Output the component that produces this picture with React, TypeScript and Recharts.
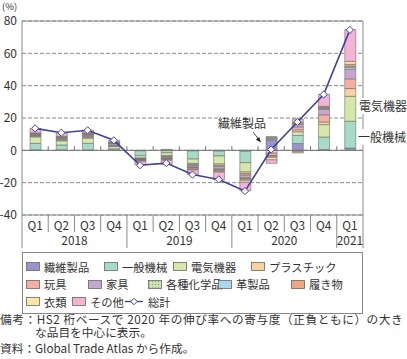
import React from "react";
import {
  ComposedChart,
  Bar,
  Line,
  XAxis,
  YAxis,
  CartesianGrid,
  ReferenceLine,
  ReferenceArea,
} from "recharts";

// quarters 2018Q1 .. 2021Q1
const quarters = ["Q1", "Q2", "Q3", "Q4", "Q1", "Q2", "Q3", "Q4", "Q1", "Q2", "Q3", "Q4", "Q1"];
const years = ["2018", "2018", "2018", "2018", "2019", "2019", "2019", "2019", "2020", "2020", "2020", "2020", "2021"];

// contribution to growth (%pt)
const textiles = [0.3, 0.3, 0.3, 0.2, -0.3, 0.6, -0.4, -0.5, -0.6, 6.5, 4.2, 0.5, 1.4];
const machinery = [4.0, 3.0, 4.0, 0.8, -3.0, -1.5, -5.0, -3.0, -7.0, 0.6, 5.0, 7.7, 16.6];
const electrical = [4.0, 2.6, 3.2, 1.4, -1.5, -1.8, -2.7, -5.0, -5.8, 0.5, 2.3, 7.7, 15.4];
const plastics = [0.5, 0.5, 0.6, 0.4, -0.3, -0.4, -0.6, -0.8, -1.0, -1.8, 1.2, 1.6, 4.8];
const toys = [0.3, 0.4, 0.5, 0.3, -0.2, -0.5, -0.6, -0.8, -1.0, -1.5, 1.8, 4.5, 6.0];
const furniture = [0.5, 0.6, 0.7, 1.0, -0.4, -0.5, -1.0, -1.4, -1.5, 0.4, 1.6, 3.4, 6.0];
const chemicals = [0.4, 0.4, 0.4, 0.3, -0.3, -0.4, -0.5, -0.5, -0.5, 0.5, 0.5, 0.5, 1.0];
const leather = [0.2, 0.2, 0.2, 0.2, -0.1, -0.2, -0.2, -0.3, -0.4, -0.3, -0.6, 0.4, 0.8];
const footwear = [0.3, 0.4, 0.6, 0.4, -0.4, -0.5, -0.8, -0.7, -0.8, -0.8, -1.0, 0.6, 1.2];
const apparel = [0.3, 0.3, 0.3, 0.2, -0.2, -0.3, -0.3, -0.5, -1.2, -1.5, 0.8, 0.3, 1.8];
const others = [2.7, 2.1, 1.6, 1.0, -2.2, -2.5, -3.0, -4.8, -5.2, -2.1, 2.0, 7.5, 19.7];
const total = [13.6, 10.9, 12.4, 6.2, -9.2, -7.9, -15.0, -18.0, -25.2, 0.5, 17.5, 34.5, 74.5];

const yTicks = [-40, -20, 0, 20, 40, 60, 80];

const series = [
  { key: "textiles", name: "繊維製品", values: textiles, color: "#9b94cc" },
  { key: "machinery", name: "一般機械", values: machinery, color: "#a6dcc6" },
  { key: "electrical", name: "電気機器", values: electrical, color: "#d5e8a5" },
  { key: "plastics", name: "プラスチック", values: plastics, color: "#fbd19e" },
  { key: "toys", name: "玩具", values: toys, color: "#f7ad9f" },
  { key: "furniture", name: "家具", values: furniture, color: "#c5a6d3" },
  { key: "chemicals", name: "各種化学品", values: chemicals, color: "url(#chemDots)" },
  { key: "leather", name: "革製品", values: leather, color: "#a9d9ef" },
  { key: "footwear", name: "履き物", values: footwear, color: "#eea77c" },
  { key: "apparel", name: "衣類", values: apparel, color: "#fde7a2" },
  { key: "others", name: "その他", values: others, color: "#f5b3d3" },
];

const data = quarters.map((q, i) => {
  const row: Record<string, any> = { id: years[i] + q, total: total[i] };
  series.forEach((s) => (row[s.key] = s.values[i]));
  return row;
});

const FONT = '"Noto Sans CJK JP", "Noto Sans", sans-serif';
const LINE = "#3d42a0";
const AXIS = "#8a8a8a";
const TEXT = "#333";

// legend layout: [series key, swatch left] per row
const legendRows: [string, number][][] = [
  [["textiles", 26], ["machinery", 104], ["electrical", 173], ["plastics", 251]],
  [["toys", 26], ["furniture", 88], ["chemicals", 148], ["leather", 218], ["footwear", 291]],
  [["apparel", 26], ["others", 72], ["total", 125]],
];

function Diamond(props: any) {
  const { cx, cy } = props;
  if (cx == null || cy == null) return null;
  const r = 3.6;
  return (
    <path
      d={`M${cx},${cy - r}L${cx + r},${cy}L${cx},${cy + r}L${cx - r},${cy}Z`}
      fill="#fff"
      stroke={LINE}
      strokeWidth={1}
    />
  );
}

function QuarterTick(props: any) {
  const { x, y, payload } = props;
  const i = payload.index;
  const half = payload.offset || 341 / 26;
  const left = x - half;
  const q = quarters[i];
  const yearStart = q === "Q1";
  let yearX: number | null = null;
  if (q === "Q2") yearX = x + half;
  if (i === quarters.length - 1 && q === "Q1") yearX = x;
  return (
    <g>
      <line x1={left} x2={left} y1={y} y2={y + (yearStart ? 33 : 17)} stroke={AXIS} />
      {i === quarters.length - 1 && (
        <line x1={x + half} x2={x + half} y1={y} y2={y + 33} stroke={AXIS} />
      )}
      <text x={x} y={y + 14.5} textAnchor="middle" fontSize={11.8} fill={TEXT} fontFamily={FONT}>
        {q}
      </text>
      {yearX != null && (
        <text x={yearX} y={y + 30} textAnchor="middle" fontSize={11.8} fill={TEXT} fontFamily={FONT}>
          {years[i]}
        </text>
      )}
    </g>
  );
}

function Swatch({ fill }: { fill: string }) {
  return (
    <svg width={14} height={9} style={{ display: "block" }}>
      <rect x={0.5} y={0.5} width={13} height={8} fill={fill} stroke="#666" strokeWidth={0.8} />
    </svg>
  );
}

export default function App() {
  const ids = data.map((d) => d.id);
  return (
    <div
      style={{
        position: "absolute",
        left: 0,
        top: 0,
        width: 407,
        height: 359,
        background: "#fff",
        overflow: "hidden",
        fontFamily: FONT,
        color: TEXT,
      }}
    >
      <ComposedChart
        width={407}
        height={252}
        data={data}
        stackOffset="sign"
        margin={{ top: 21, right: 44, bottom: 0, left: 0 }}
      >
        <defs>
          <pattern id="chemDots" width="3" height="3" patternUnits="userSpaceOnUse">
            <rect width="3" height="3" fill="#cfe3b4" />
            <circle cx="1.5" cy="1.5" r="0.7" fill="#86ad6a" />
          </pattern>
        </defs>
        <CartesianGrid vertical={false} stroke={AXIS} strokeDasharray="4 2" />
        <XAxis
          dataKey="id"
          height={37}
          axisLine={false}
          tickLine={false}
          tickSize={0}
          tickMargin={0}
          interval={0}
          tick={<QuarterTick />}
        />
        <YAxis
          width={22}
          domain={[-40, 80]}
          ticks={yTicks}
          axisLine={false}
          tickLine={false}
          tickSize={3}
          tickMargin={2}
          tick={{ fontSize: 12, fill: TEXT, fontFamily: FONT }}
        />
        {series.map((s) => (
          <Bar
            key={s.key}
            dataKey={s.key}
            name={s.name}
            stackId="a"
            fill={s.color}
            stroke="#6f6f6f"
            strokeWidth={0.6}
            barSize={11}
            isAnimationActive={false}
          />
        ))}
        <ReferenceLine y={0} stroke="#777" />
        {ids.slice(1).map((id) => (
          <ReferenceLine
            key={"t" + id}
            segment={[
              { x: id, y: 0 },
              { x: id, y: 2.6 },
            ]}
            position="start"
            stroke="#777"
          />
        ))}
        <ReferenceArea y1={-40} y2={80} fill="none" stroke={AXIS} strokeWidth={1} />
        <Line
          dataKey="total"
          name="総計"
          stroke={LINE}
          strokeWidth={1.6}
          dot={<Diamond />}
          activeDot={false}
          isAnimationActive={false}
        />
      </ComposedChart>

      <div style={{ position: "absolute", left: 2, top: 1.8, fontSize: 9.5, lineHeight: "9px" }}>(%)</div>

      {/* callouts */}
      <div style={{ position: "absolute", left: 359, top: 98, fontSize: 12, lineHeight: "16px", background: "#fff" }}>
        電気機器
      </div>
      <div style={{ position: "absolute", left: 358, top: 129, fontSize: 12, lineHeight: "16px", background: "#fff" }}>
        一般機械
      </div>
      <div
        style={{
          position: "absolute",
          left: 218,
          top: 115,
          fontSize: 12,
          lineHeight: "16px",
          background: "#fff",
          whiteSpace: "nowrap",
        }}
      >
        繊維製品
      </div>
      <svg style={{ position: "absolute", left: 0, top: 0 }} width={407} height={252} pointerEvents="none">
        <line x1={253} y1={132} x2={258.5} y2={139} stroke="#222" strokeWidth={0.8} />
        <path d="M261,142.5 L255.8,139.6 L259.2,137 Z" fill="#222" />
      </svg>

      {/* legend */}
      <div
        style={{
          position: "absolute",
          left: 22,
          top: 252,
          width: 339,
          height: 60,
          border: "1px solid #888",
        }}
      />
      {legendRows.map((row, r) =>
        row.map(([key, left]) => {
          const s = series.find((x) => x.key === key);
          const name = s ? s.name : "総計";
          return (
            <div
              key={key}
              style={{
                position: "absolute",
                left,
                top: 258 + r * 17.5,
                height: 17,
                display: "flex",
                alignItems: "center",
                fontSize: 11.3,
                whiteSpace: "nowrap",
              }}
            >
              {s ? (
                <Swatch fill={s.color} />
              ) : (
                <svg width={18} height={9} style={{ display: "block" }}>
                  <line x1={0} x2={18} y1={4.5} y2={4.5} stroke={LINE} strokeWidth={1.4} />
                  <path d="M9,1.3L12.2,4.5L9,7.7L5.8,4.5Z" fill="#fff" stroke={LINE} strokeWidth={1} />
                </svg>
              )}
              <span style={{ marginLeft: s ? 4 : 5 }}>{name}</span>
            </div>
          );
        })
      )}

      {/* notes */}
      <div
        style={{
          position: "absolute",
          left: 0,
          top: 312.5,
          fontSize: 11.7,
          lineHeight: "12px",
          letterSpacing: 0.55,
          whiteSpace: "nowrap",
        }}
      >
        備考：HS2 桁ベースで 2020 年の伸び率への寄与度（正負ともに）の大き
      </div>
      <div style={{ position: "absolute", left: 35, top: 326, fontSize: 11.7, lineHeight: "12px", whiteSpace: "nowrap" }}>
        な品目を中心に表示。
      </div>
      <div style={{ position: "absolute", left: 0, top: 342, fontSize: 11.7, lineHeight: "12px", whiteSpace: "nowrap" }}>
        資料：Global Trade Atlas から作成。
      </div>
    </div>
  );
}
